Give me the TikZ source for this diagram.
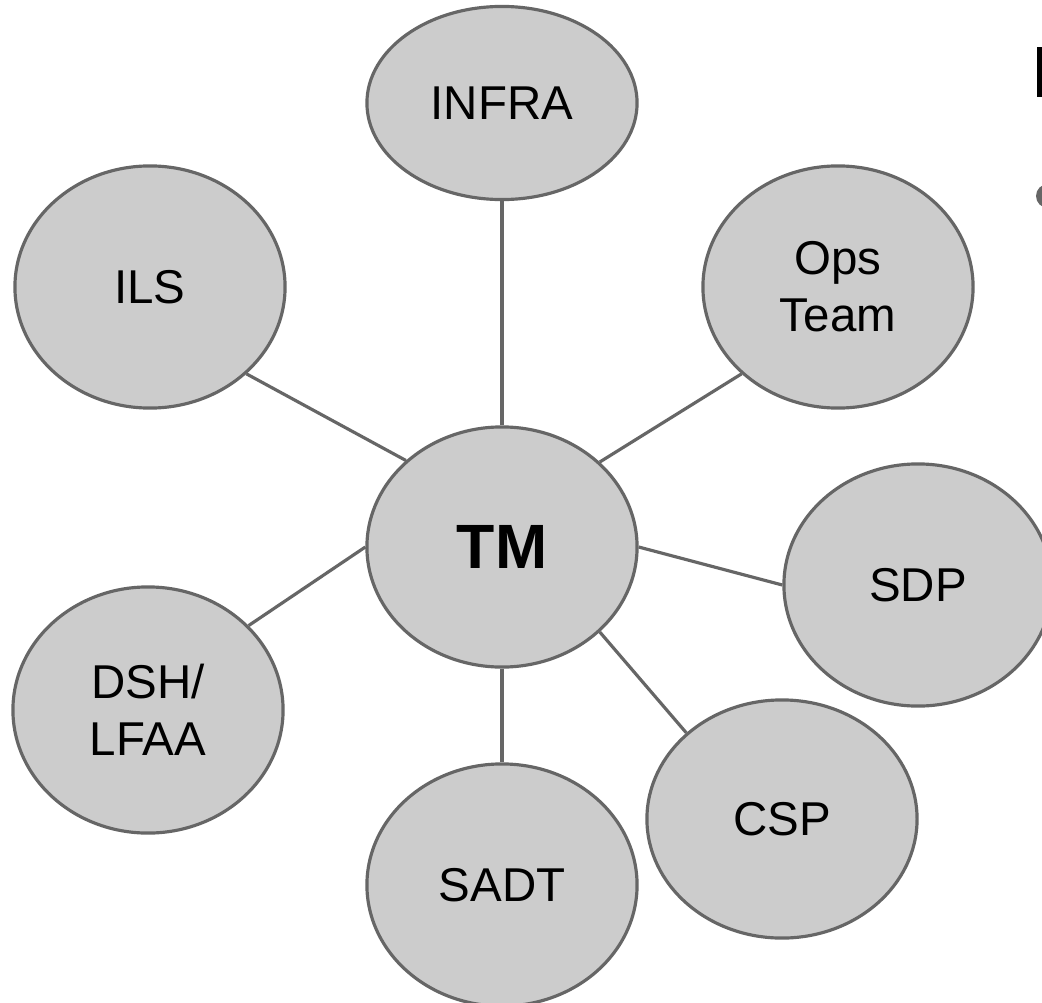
\documentclass[tikz,border=0pt]{standalone}
\usepackage{fontspec}
\setmainfont{Liberation Sans}
\usetikzlibrary{shapes.geometric}
\definecolor{bubblefill}{HTML}{CCCCCC}
\definecolor{bubbleline}{HTML}{666666}
\tikzset{
  bubble/.style={ellipse, draw=bubbleline, fill=bubblefill, line width=0.9pt,
    inner sep=0pt, minimum width=2.70cm, minimum height=2.42cm,
    align=center, font=\fontsize{13.5}{16.2}\selectfont},
  hub/.style={bubble, font=\bfseries\fontsize{17.8}{21}\selectfont},
  link/.style={draw=bubbleline, line width=0.9pt}
}
\begin{document}
\begin{tikzpicture}[x=0.01cm, y=-0.01cm]
\useasboundingbox (0,0) rectangle (1042,1003);
\clip (0,0) rectangle (1042,1003);
\fill[white] (0,0) rectangle (1042,1003);

% central hub and the surrounding teams
\node[hub, minimum height=2.40cm] (tm) at (502,547) {TM};
\node[bubble, minimum height=1.93cm] (infra) at (502,103) {INFRA};
\node[bubble] (ils) at (150,287) {ILS};
\node[bubble] (ops) at (838,287) {Ops\\Team};
\node[bubble, minimum width=2.68cm] (sdp) at (918,585) {SDP};
\node[bubble, minimum height=2.46cm] (dsh) at (148,710) {DSH/\\LFAA};
\node[bubble] (sadt) at (502,885) {SADT};
\node[bubble, minimum height=2.38cm] (csp) at (782,819) {CSP};

% spokes from the hub to each team
\draw[link] (tm.north) -- (infra.south);
\draw[link] (tm.138.5) -- (ils.-42.5);
\draw[link] (tm.41.5) -- (ops.-138);
\draw[link] (tm.east) -- (sdp.west);
\draw[link] (tm.-41) -- (csp.138);
\draw[link] (tm.south) -- (sadt.north);
\draw[link] (tm.west) -- (dsh.40.6);

% edge of the neighbouring text column
\fill[black] (1037,47) rectangle (1043,97);
\fill[bubbleline] (1048,196) circle (12);
\end{tikzpicture}
\end{document}
